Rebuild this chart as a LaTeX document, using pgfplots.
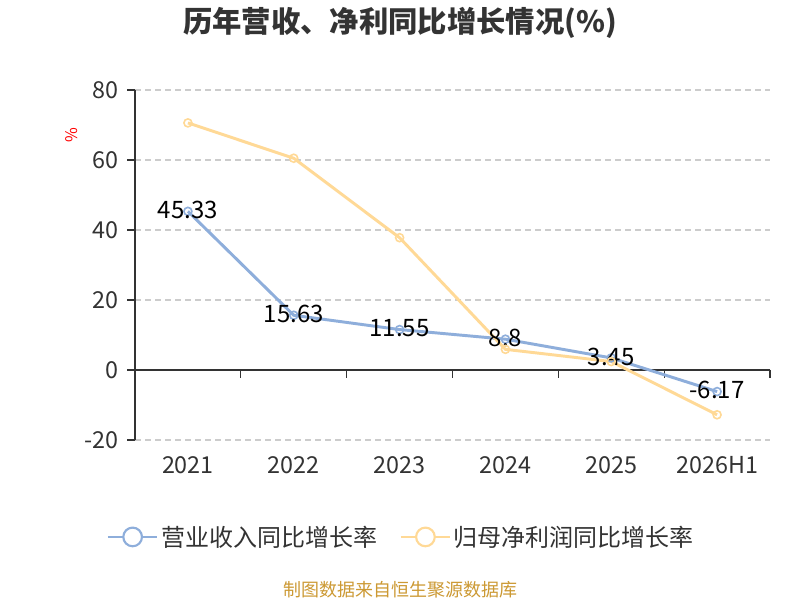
\documentclass[border=0pt]{standalone}
\usepackage{pgfplots}
\pgfplotsset{compat=1.18}
\usepackage{fontspec}
\setmainfont{Noto Sans CJK SC}
\definecolor{bl}{HTML}{8EAEDB}
\definecolor{yl}{HTML}{FFD996}
\definecolor{tx}{HTML}{333333}
\definecolor{gr}{HTML}{CCCCCC}
\definecolor{src}{HTML}{CC9933}
\begin{document}
\begin{tikzpicture}[x=0.75pt,y=0.75pt]
\path[fill=white] (0,0) rectangle (800,600);
\begin{axis}[
  at={(101.25pt,120pt)}, anchor=south west,
  scale only axis, width=476.25pt, height=262.5pt,
  xmin=-0.5, xmax=5.5, ymin=-20, ymax=80,
  xtick={0,1,2,3,4,5},
  xticklabels={2021,2022,2023,2024,2025,2026H1},
  ytick={-20,0,20,40,60,80},
  axis x line*=bottom, axis y line*=left,
  x axis line style={draw=none},
  y axis line style={draw=tx, line width=0.9pt},
  major tick length=0pt,
  every tick/.style={draw=none},
  ymajorgrids, grid style={gr, dashed, line width=0.9pt, dash pattern=on 4.5pt off 3pt},
  tick label style={font=\fontsize{17.5}{20}\selectfont, text=tx},
  yticklabel style={xshift=-9pt},
  xticklabel style={yshift=-9pt},
  /pgf/number format/assume math mode=true,
  clip=false,
  legend style={at={(0.42,-0.277)}, anchor=center, draw=none, fill=none,
    font=\fontsize{18}{21}\selectfont, text=tx, legend columns=2,
    /tikz/every even column/.append style={column sep=15pt}},
  legend image code/.code={
    \draw[#1, line width=1.6pt] (-1pt,0pt) -- (36pt,0pt);
    \draw[#1, line width=1.6pt, fill=white] (17.5pt,0pt) circle (7pt);
  },
]
\draw[tx, line width=0.9pt] (axis cs:-0.5,0) -- (axis cs:5.5,0);
\pgfplotsinvokeforeach{0.5,1.5,2.5,3.5,4.5,5.5}{
  \draw[tx, line width=0.9pt] (axis cs:#1,0) -- ++(0pt,-6pt);
}
\pgfplotsinvokeforeach{-20,0,20,40,60,80}{
  \draw[tx, line width=0.9pt] (axis cs:-0.5,#1) -- ++(-6pt,0pt);
}
\addplot[bl, line width=2.2pt, mark=o, mark size=3pt,
  mark options={fill=white, line width=1.2pt},
  nodes near coords, point meta=explicit symbolic,
  every node near coord/.style={anchor=center, yshift=1pt, text=black, font=\fontsize{18}{21}\selectfont}]
  table[meta=l] {
x y l
0 45.33 45.33
1 15.63 15.63
2 11.55 11.55
3 8.8 8.8
4 3.45 3.45
5 -6.17 -6.17
};
\addlegendentry{营业收入同比增长率}
\addplot[yl, line width=2.2pt, mark=o, mark size=3pt,
  mark options={fill=white, line width=1.2pt}]
  coordinates {(0,70.6) (1,60.5) (2,37.8) (3,5.9) (4,2.4) (5,-12.8)};
\addlegendentry{归母净利润同比增长率}
\node[red, rotate=90, font=\fontsize{12}{14}\selectfont] at (rel axis cs:-0.1,0.87) {\%};
\end{axis}
\node[font=\fontsize{22}{26}\selectfont\bfseries, text=tx] at (400,577) {历年营收、净利同比增长情况(\%)};
\node[font=\fontsize{13.5}{16}\selectfont, text=src] at (400,10) {制图数据来自恒生聚源数据库};
\end{tikzpicture}
\end{document}
